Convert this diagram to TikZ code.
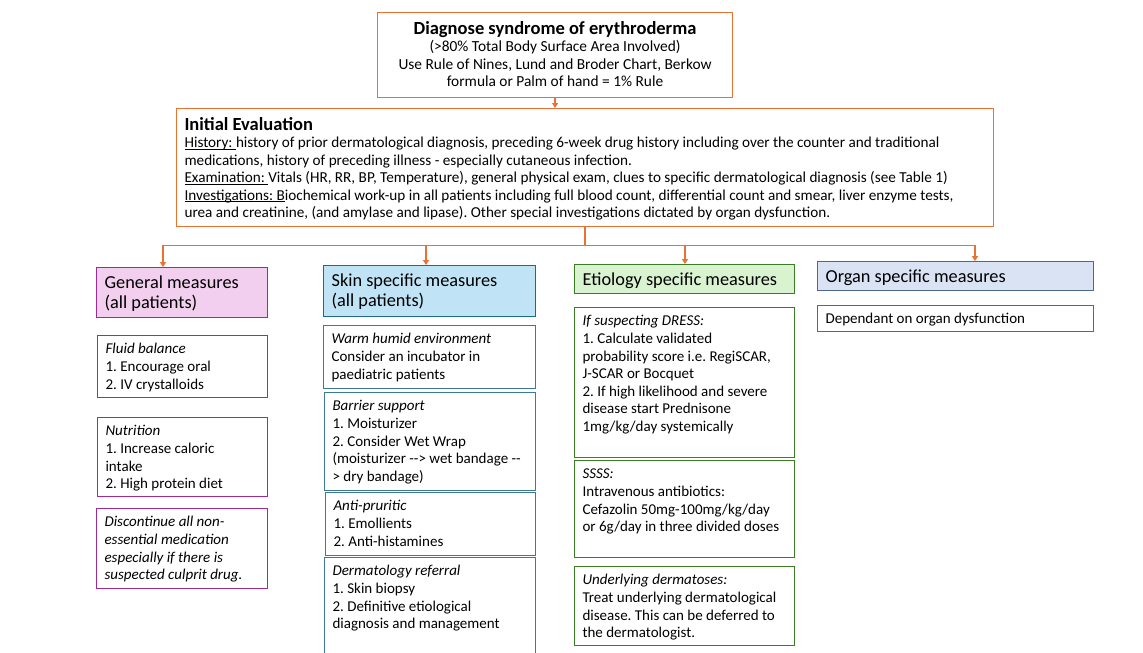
\documentclass[tikz,border=0pt]{standalone}
\usepackage{fontspec}
\setmainfont{Carlito}
\usetikzlibrary{arrows.meta}
\usetikzlibrary{calc}

\definecolor{linkorange}{HTML}{E97132}
\definecolor{genfill}{HTML}{F2CFEE}
\definecolor{gendraw}{HTML}{A02B93}
\definecolor{skinfill}{HTML}{C0E4F5}
\definecolor{skindraw}{HTML}{1F6A85}
\definecolor{skinsub}{HTML}{3D7A93}
\definecolor{etifill}{HTML}{D9F2D0}
\definecolor{etidraw}{HTML}{3B7D23}
\definecolor{orgfill}{HTML}{DAE3F3}
\definecolor{orgdraw}{HTML}{4E6A8A}

% [top gap]{name}{style}{x,y}{width}{height}{text}
\newcommand{\cellnode}[7][2pt]{%
  \node[cell, #3] (#2) at (#4) {\begin{minipage}[t][\dimexpr#6pt-8pt\relax][t]{\dimexpr#5pt-16pt\relax}\raggedright\frenchspacing\vspace*{#1}\strut#7\end{minipage}};}
\newcommand{\ulhead}[1]{\underline{\smash{#1}}}

\begin{document}
\begin{tikzpicture}[x=1pt, y=-1pt,
    flow/.style={draw=linkorange, line width=1.2pt},
    arr/.style={flow, -{Triangle[length=5pt,width=6pt]}},
    cell/.style={draw, line width=1.1pt, anchor=north west, inner xsep=8pt, inner ysep=4pt,
      font=\fontsize{15}{17.6}\selectfont},
    head/.style={line width=1.3pt, font=\fontsize{18.3}{20}\selectfont}]
    \useasboundingbox (0,0) rectangle (1143,653);

    % top of the chart
    \cellnode[4.5pt]{diag}{draw=linkorange, font=\fontsize{15.4}{17.5}\selectfont}{377,12}{355}{85}{\centering
      {\fontsize{18.5}{19.5}\selectfont\bfseries Diagnose syndrome of erythroderma\par}
      (>80\% Total Body Surface Area Involved)\\
      Use Rule of Nines, Lund and Broder Chart, Berkow\\
      formula or Palm of hand = 1\% Rule}
    \cellnode[5pt]{init}{draw=linkorange, font=\fontsize{15.2}{17.4}\selectfont}{176,108}{817}{118}{%
      {\fontsize{18.5}{19}\selectfont\bfseries Initial Evaluation\par}
      \ulhead{History:\ }history of prior dermatological diagnosis, preceding 6-week drug history including over the counter and traditional\\
      medications, history of preceding illness - especially cutaneous infection.\\
      \ulhead{Examination:\ }Vitals (HR, RR, BP, Temperature), general physical exam, clues to specific dermatological diagnosis (see Table 1)\\
      \ulhead{Investigations: B}iochemical work-up in all patients including full blood count, differential count and smear, liver enzyme tests,\\
      urea and creatinine, (and amylase and lipase). Other special investigations dictated by organ dysfunction.}

    % column headers
    \cellnode[3pt]{gen}{head, draw=gendraw, fill=genfill}{96,267}{171}{50}{General measures\\(all patients)}
    \cellnode[3pt]{skin}{head, draw=skindraw, fill=skinfill}{323,265}{212}{51}{Skin specific measures\\(all patients)}
    \cellnode[3pt]{eti}{head, draw=etidraw, fill=etifill}{574,264}{220}{29}{Etiology specific measures}
    \cellnode[2.5pt]{org}{head, draw=orgdraw, fill=orgfill}{817,261}{276}{29}{Organ specific measures}

    % general measures
    \cellnode{fluid}{draw=gendraw}{97,335}{170}{62}{\textit{Fluid balance}\\1. Encourage oral\\2. IV crystalloids}
    \cellnode{nutri}{draw=gendraw}{97,417}{170}{79}{\textit{Nutrition}\\1. Increase caloric\\intake\\2. High protein diet}
    \cellnode{stopdrug}{draw=gendraw}{96,508}{171}{80}{\itshape Discontinue all non-\\essential medication\\especially if there is\\suspected culprit drug.}

    % skin specific measures
    \cellnode{warm}{draw=skinsub}{323,325}{212}{63}{\textit{Warm humid environment}\\Consider an incubator in\\paediatric patients}
    \cellnode{barrier}{draw=skinsub}{324,392}{211}{98}{\textit{Barrier support}\\1. Moisturizer\\2. Consider Wet Wrap\\(moisturizer -{}-> wet bandage -{}-\\> dry bandage)}
    \cellnode{itch}{draw=skinsub}{325,492}{210}{63}{\textit{Anti-pruritic}\\1. Emollients\\2. Anti-histamines}
    \cellnode{derm}{draw=skinsub}{324,557}{211}{110}{\textit{Dermatology referral}\\1. Skin biopsy\\2. Definitive etiological\\diagnosis and management}

    % etiology specific measures
    \cellnode{dress}{draw=etidraw}{574,307}{220}{150}{\textit{If suspecting DRESS:}\\1. Calculate validated\\probability score i.e. RegiSCAR,\\J-SCAR or Bocquet\\2. If high likelihood and severe\\disease start Prednisone\\1mg/kg/day systemically}
    \cellnode{ssss}{draw=etidraw}{574,460}{220}{97}{\textit{SSSS:}\\Intravenous antibiotics:\\Cefazolin 50mg-100mg/kg/day\\or 6g/day in three divided doses}
    \cellnode{under}{draw=etidraw}{574,566}{220}{79}{\textit{Underlying dermatoses:}\\Treat underlying dermatological\\disease. This can be deferred to\\the dermatologist.}

    % organ specific measures
    \cellnode{organdys}{draw=orgdraw}{817,305}{276}{26}{Dependant on organ dysfunction}

    % connectors
    \coordinate (bus) at ($(init.south)+(0,18)$);
    \coordinate (bgen) at (163,0);
    \coordinate (bskin) at (426,0);
    \coordinate (beti) at (685,0);
    \coordinate (borg) at (975,0);
    \draw[arr] (diag.south) -- (diag.south |- init.north);
    \draw[arr] (init.south) -- (bus) -- (bgen |- bus) -- (bgen |- gen.north);
    \draw[arr] (bus) -- (borg |- bus) -- (borg |- org.north);
    \draw[arr] (bskin |- bus) -- (bskin |- skin.north);
    \draw[arr] (beti |- bus) -- (beti |- eti.north);
\end{tikzpicture}
\end{document}
